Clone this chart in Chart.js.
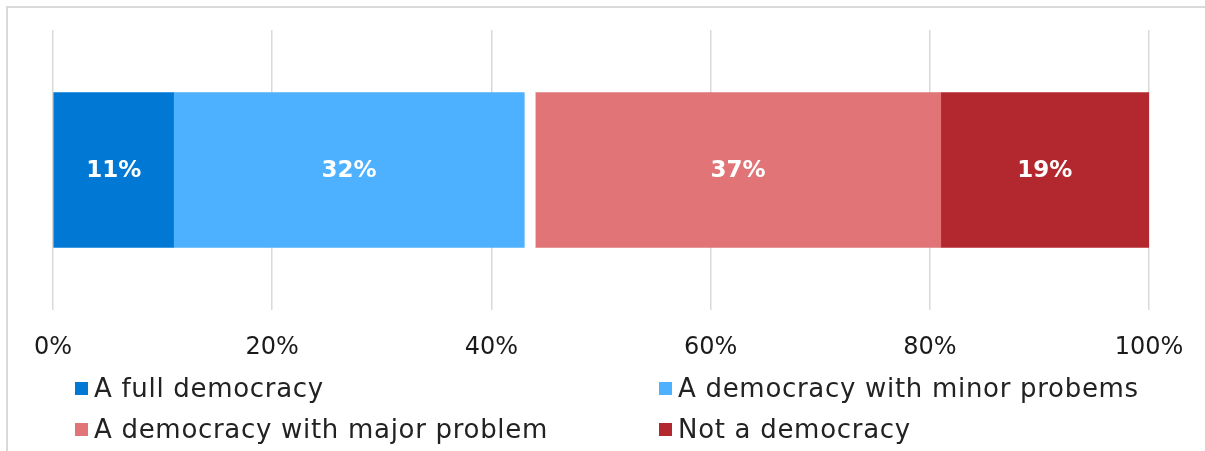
<!DOCTYPE html>
<html>
<head>
<meta charset="utf-8">
<script src="https://cdn.jsdelivr.net/npm/chart.js@4"></script>
<style>
  html, body { margin: 0; padding: 0; background: #fff; overflow: hidden; }
  #wrap { position: relative; width: 1205px; height: 451px; overflow: hidden; }
  #lineTop { position: absolute; left: 6px; top: 6px; width: 1199px; height: 2px; background: #d9d9d9; }
  #lineLeft { position: absolute; left: 6px; top: 6px; width: 2px; height: 445px; background: #d9d9d9; }
  canvas { position: absolute; left: 0; top: 0; }
  .lg { position: absolute; display: flex; align-items: center; height: 30px;
        font-family: "DejaVu Sans", sans-serif; font-size: 26px; letter-spacing: 0.7px;
        color: #222; white-space: nowrap; }
  .lg span.box { display: inline-block; width: 13px; height: 13px; margin-right: 6px; }
</style>
</head>
<body>
<div id="wrap">
  <div id="lineTop"></div>
  <div id="lineLeft"></div>
  <canvas id="chart" width="1205" height="451"></canvas>
  <div id="legend"></div>
</div>
<script>
// Data
const categories = ['Answer'];
const seriesLabels = ['A full democracy', 'A democracy with minor probems', '', 'A democracy with major problem', 'Not a democracy'];
const seriesValues = [11, 32, 1, 37, 19];  // the 1 is the blank gap between blue and red
const seriesColors = ['#0078d4', '#4db1ff', '#ffffff', '#e07476', '#b3282e'];
const tickLabels = ['0%', '20%', '40%', '60%', '80%', '100%'];

// Legend placement (column / row order as in the picture)
const legendOrder = [0, 1, 3, 4];
const legendPos = [[75, 373], [659, 373], [75, 414], [659, 414]];

const FONT = '"DejaVu Sans", sans-serif';

// Draw white bold % labels inside each segment
const segmentLabels = {
  id: 'segmentLabels',
  afterDatasetsDraw(chart) {
    const ctx = chart.ctx;
    ctx.save();
    ctx.font = 'bold 23px ' + FONT;
    ctx.fillStyle = '#ffffff';
    ctx.textAlign = 'center';
    ctx.textBaseline = 'middle';
    chart.data.datasets.forEach((ds, i) => {
      if (!ds.label) return;
      chart.getDatasetMeta(i).data.forEach((bar, j) => {
        const x = (bar.x + bar.base) / 2;
        ctx.fillText(ds.data[j] + '%', x, bar.y + 1);
      });
    });
    ctx.restore();
  }
};

const datasets = seriesValues.map((v, i) => ({
  label: seriesLabels[i],
  data: [v],
  backgroundColor: seriesColors[i],
  borderWidth: 0,
  barThickness: 155
}));

const chart = new Chart(document.getElementById('chart'), {
  type: 'bar',
  data: { labels: categories, datasets: datasets },
  options: {
    indexAxis: 'y',
    responsive: false,
    animation: false,
    layout: { padding: { left: 53, right: 56, top: 30, bottom: 81 } },
    scales: {
      x: {
        stacked: true,
        min: 0,
        max: 100,
        border: { display: false },
        grid: { color: '#d9d9d9', lineWidth: 1.5, drawTicks: false },
        ticks: {
          stepSize: 20,
          padding: 23,
          maxRotation: 0,
          color: '#1a1a1a',
          font: { family: FONT, size: 24 },
          callback: (v, i) => tickLabels[i]
        },
        afterFit(scale) {
          // keep the plot area fixed by the layout padding alone
          scale.paddingLeft = 0;
          scale.paddingRight = 0;
          scale.height = 60;
        }
      },
      y: { stacked: true, display: false }
    },
    plugins: {
      legend: { display: false },
      tooltip: { enabled: false }
    }
  },
  plugins: [segmentLabels]
});

// HTML legend built from the chart datasets
const legendEl = document.getElementById('legend');
legendOrder.forEach((idx, k) => {
  const ds = chart.data.datasets[idx];
  const item = document.createElement('div');
  item.className = 'lg';
  item.style.left = legendPos[k][0] + 'px';
  item.style.top = legendPos[k][1] + 'px';
  item.innerHTML = '<span class="box" style="background:' + ds.backgroundColor + '"></span>' + ds.label;
  legendEl.appendChild(item);
});
</script>
</body>
</html>
